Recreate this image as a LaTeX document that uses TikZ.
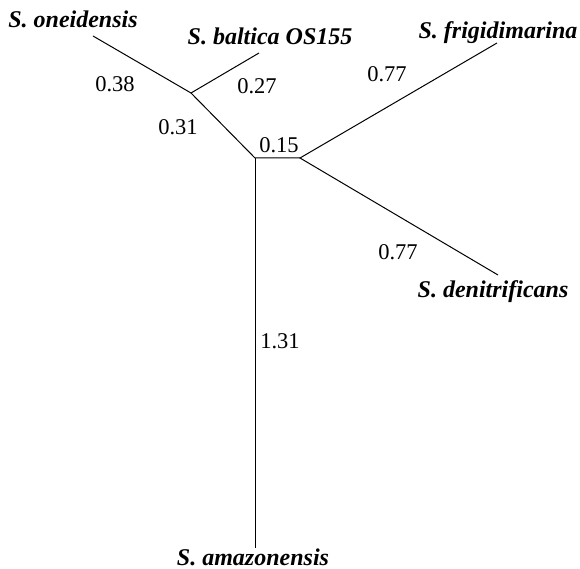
\documentclass[tikz,border=0pt]{standalone}
\usepackage{fontspec}
\setmainfont{Liberation Serif}
\begin{document}
\begin{tikzpicture}[x=1pt, y=-1pt, line width=1pt,
  taxon/.style={anchor=base, font=\fontsize{24}{28}\selectfont\bfseries\itshape},
  blen/.style={anchor=base, font=\fontsize{22.5}{26}\selectfont}]
\useasboundingbox (0,0) rectangle (580,569);
% inner nodes
\coordinate (ab) at (191,93);
\coordinate (root) at (255,158);
\coordinate (fd) at (300,158);
% tips
\coordinate (one) at (93,36);
\coordinate (bal) at (259,53);
\coordinate (fri) at (497,43);
\coordinate (den) at (498,275);
\coordinate (ama) at (255,548);
% branches
\draw (one) -- (ab) -- (bal);
\draw (ab) -- (root) -- (fd);
\draw (fri) -- (fd) -- (den);
\draw (root) -- (ama);
% taxa
\node[taxon] (onelab) at (73,28) {S. oneidensis};
\node[taxon] (ballab) at (270,45) {S. baltica OS155};
\node[taxon] (frilab) at (498,39) {S. frigidimarina};
\node[taxon] (denlab) at (493,297) {S. denitrificans};
\node[taxon] (amalab) at (253,565) {S. amazonensis};
% branch lengths
\node[blen] (l38) at (115,92) {0.38};
\node[blen] (l27) at (257,94) {0.27};
\node[blen] (l31) at (178,135) {0.31};
\node[blen] (l15) at (279,153) {0.15};
\node[blen] (l77a) at (387,82) {0.77};
\node[blen] (l77b) at (398,259) {0.77};
\node[blen] (l131) at (280,348) {1.31};
\end{tikzpicture}
\end{document}
